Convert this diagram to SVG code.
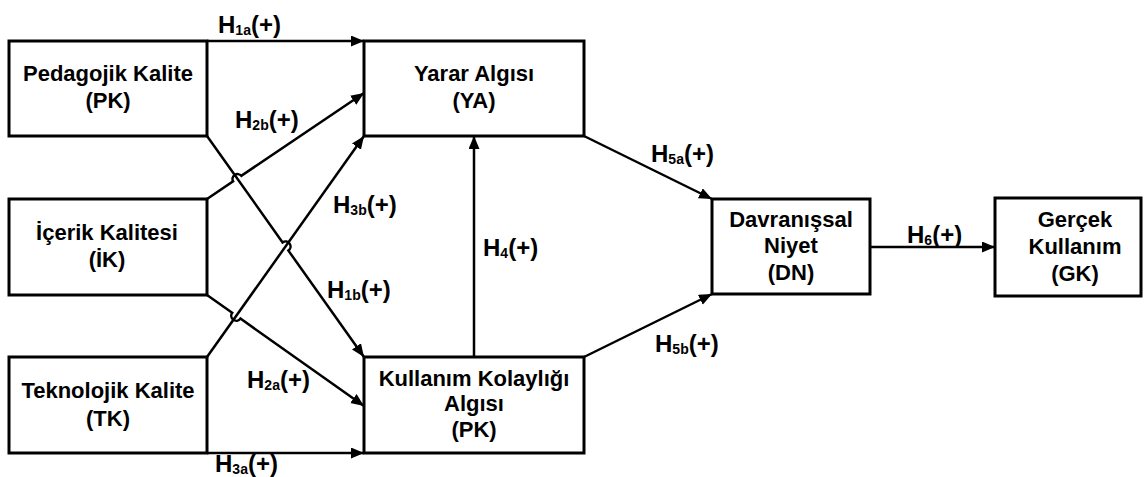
<svg xmlns="http://www.w3.org/2000/svg" width="1145" height="477" viewBox="0 0 1145 477">
  <style>
    .box { fill: #ffffff; stroke: #000000; stroke-width: 3; }
    .t { font-family: "Liberation Sans", Arial, sans-serif; font-weight: bold; font-size: 22px; fill: #000000; text-anchor: middle; }
    .lbl { font-family: "Liberation Sans", Arial, sans-serif; font-weight: bold; font-size: 24px; fill: #000000; }
    .sub { font-size: 14px; }
    .c { fill: none; stroke: #000000; stroke-width: 2.5; marker-end: url(#arr); }
  </style>
  <defs>
    <marker id="arr" markerUnits="userSpaceOnUse" markerWidth="14" markerHeight="12" refX="13" refY="5.5" orient="auto">
      <path d="M0,0 L13,5.5 L0,11 Z" fill="#000000"/>
    </marker>
  </defs>
  <rect width="1145" height="477" fill="#ffffff"/>

  <g id="connectors">
    <path class="c" d="M207,41 L364,41"/>
    <path class="c" d="M207,199 L233.1,181.4 A5,5 0 0 1 241.3,175.8 L364,93"/>
    <path class="c" d="M207,357 L364,136"/>
    <path class="c" d="M207,136 L282.6,242.4 A5,5 0 0 1 288.4,250.6 L364,357"/>
    <path class="c" d="M207,295 L232.2,312.8 A5,5 0 0 0 240.4,318.6 L364,406"/>
    <path class="c" d="M207,453 L364,453"/>
    <path class="c" d="M474,357 L474,136"/>
    <path class="c" d="M584,136 L712,199"/>
    <path class="c" d="M584,357 L712,294"/>
    <path class="c" d="M870,247 L995,247"/>
  </g>

  <g id="labels">
    <text class="lbl" x="218" y="33">H<tspan class="sub" dy="2">1a</tspan><tspan dy="-2">(+)</tspan></text>
    <text class="lbl" x="235" y="128">H<tspan class="sub" dy="2">2b</tspan><tspan dy="-2">(+)</tspan></text>
    <text class="lbl" x="333" y="213">H<tspan class="sub" dy="2">3b</tspan><tspan dy="-2">(+)</tspan></text>
    <text class="lbl" x="327" y="298">H<tspan class="sub" dy="2">1b</tspan><tspan dy="-2">(+)</tspan></text>
    <text class="lbl" x="247" y="388">H<tspan class="sub" dy="2">2a</tspan><tspan dy="-2">(+)</tspan></text>
    <text class="lbl" x="215" y="472">H<tspan class="sub" dy="2">3a</tspan><tspan dy="-2">(+)</tspan></text>
    <text class="lbl" x="483" y="256">H<tspan class="sub" dy="2">4</tspan><tspan dy="-2">(+)</tspan></text>
    <text class="lbl" x="651" y="162">H<tspan class="sub" dy="2">5a</tspan><tspan dy="-2">(+)</tspan></text>
    <text class="lbl" x="655" y="352">H<tspan class="sub" dy="2">5b</tspan><tspan dy="-2">(+)</tspan></text>
    <text class="lbl" x="907" y="243">H<tspan class="sub" dy="2">6</tspan><tspan dy="-2">(+)</tspan></text>
  </g>

  <g id="node-pk">
    <rect class="box" x="9" y="41" width="198" height="95"/>
    <text class="t" x="108" y="81">Pedagojik Kalite</text>
    <text class="t" x="108" y="108">(PK)</text>
  </g>
  <g id="node-ik">
    <rect class="box" x="9" y="199" width="198" height="96"/>
    <text class="t" x="107" y="240">İçerik Kalitesi</text>
    <text class="t" x="107" y="267">(İK)</text>
  </g>
  <g id="node-tk">
    <rect class="box" x="9" y="357" width="198" height="96"/>
    <text class="t" x="108" y="398">Teknolojik Kalite</text>
    <text class="t" x="108" y="426">(TK)</text>
  </g>
  <g id="node-ya">
    <rect class="box" x="364" y="41" width="220" height="95"/>
    <text class="t" x="474" y="81">Yarar Algısı</text>
    <text class="t" x="474" y="108">(YA)</text>
  </g>
  <g id="node-kk">
    <rect class="box" x="364" y="357" width="220" height="96"/>
    <text class="t" x="474" y="386">Kullanım Kolaylığı</text>
    <text class="t" x="474" y="411">Algısı</text>
    <text class="t" x="474" y="437">(PK)</text>
  </g>
  <g id="node-dn">
    <rect class="box" x="712" y="199" width="158" height="95"/>
    <text class="t" x="791" y="227">Davranışsal</text>
    <text class="t" x="791" y="253">Niyet</text>
    <text class="t" x="791" y="280">(DN)</text>
  </g>
  <g id="node-gk">
    <rect class="box" x="995" y="198" width="146" height="98"/>
    <text class="t" x="1075" y="227">Gerçek</text>
    <text class="t" x="1075" y="254">Kullanım</text>
    <text class="t" x="1075" y="281">(GK)</text>
  </g>
</svg>
